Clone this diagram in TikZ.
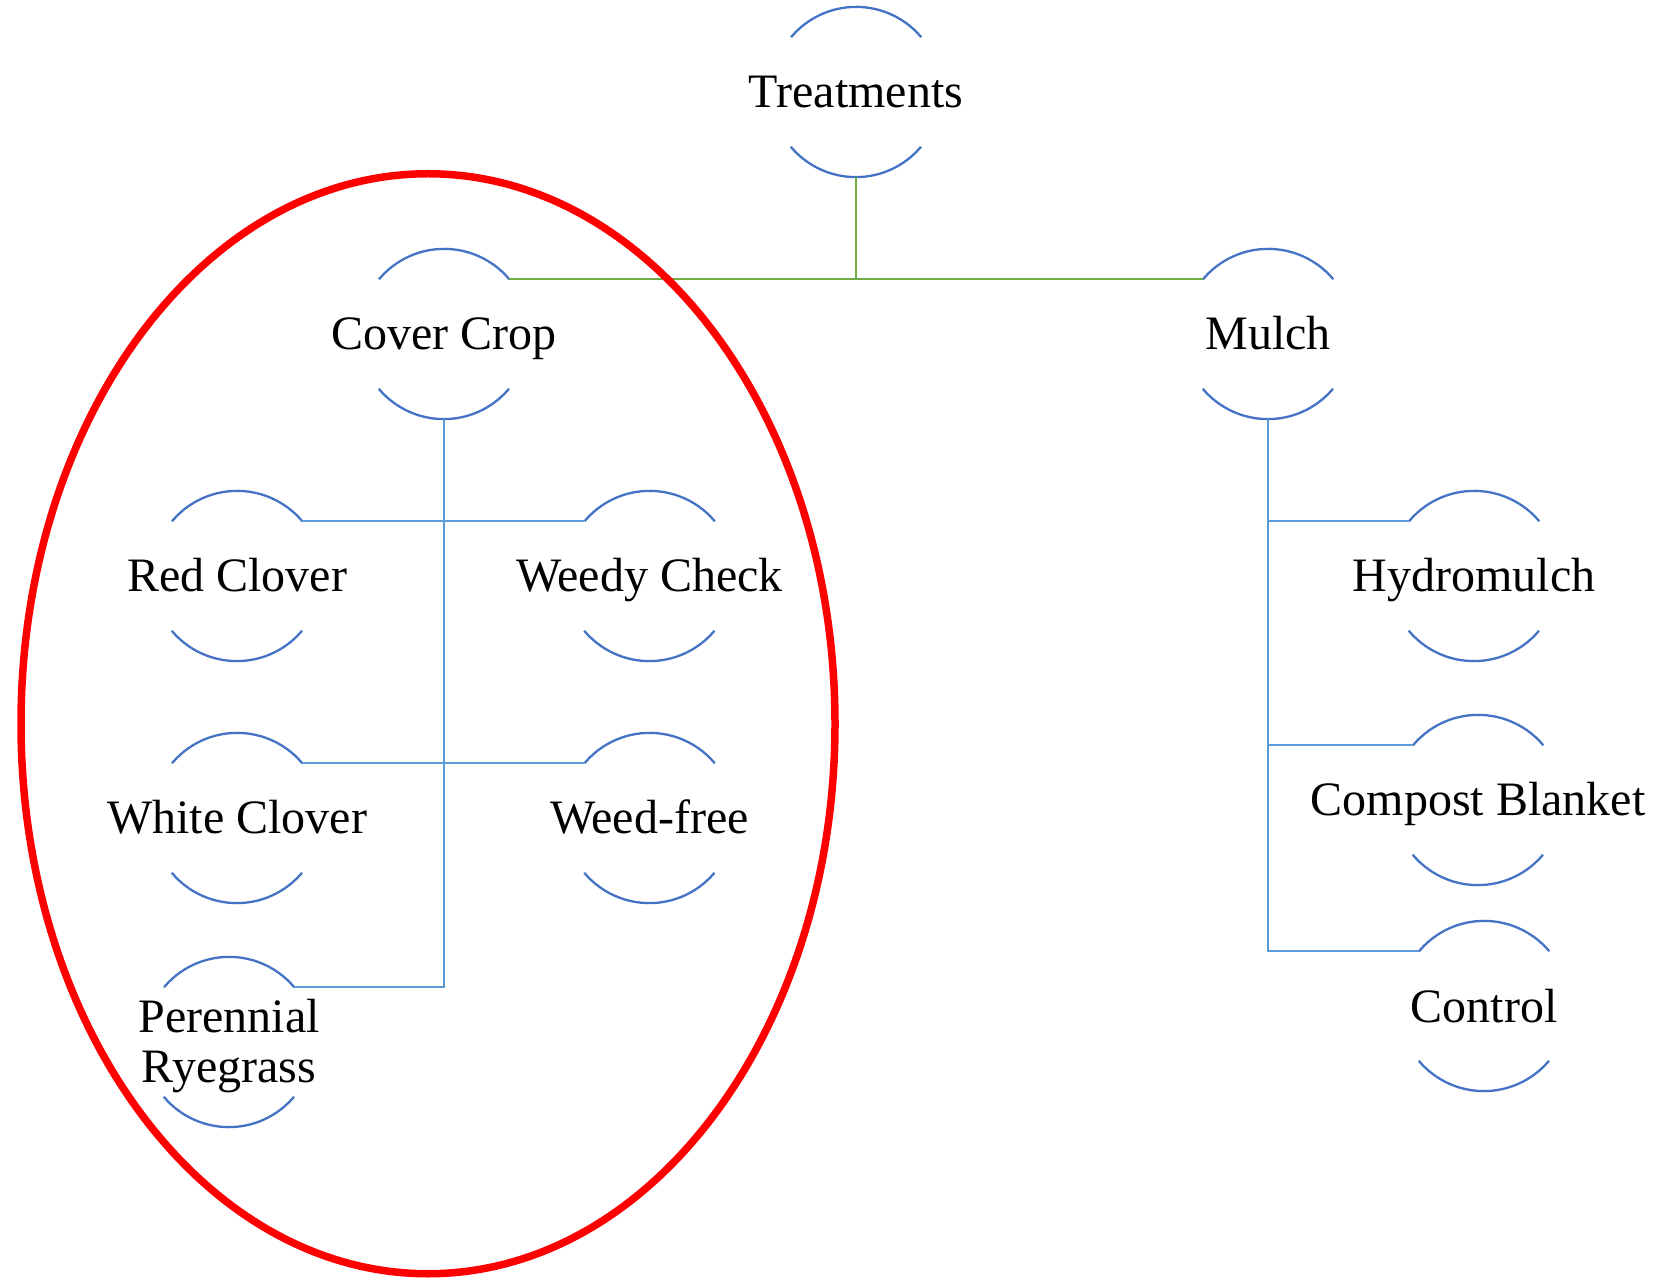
\documentclass[tikz,border=0pt]{standalone}
\usepackage{fontspec}
\setmainfont{Liberation Serif}
\definecolor{arcblue}{HTML}{4472C4}
\definecolor{linkblue}{HTML}{5B9BD5}
\definecolor{linkgreen}{HTML}{70AD47}
\tikzset{
  hnode/.style={circle, minimum size=170pt, inner sep=0pt, draw=none},
  txt/.style={font=\fontsize{48}{50}\selectfont, inner sep=0pt, anchor=base},
  arcline/.style={draw=arcblue, line width=2.3pt},
  glink/.style={draw=linkgreen, line width=2.4pt},
  blink/.style={draw=linkblue, line width=2.4pt},
}
\newcommand{\arcsof}[1]{%
  \draw[arcline] (#1.40) arc[start angle=40, end angle=140, radius=85pt];
  \draw[arcline] (#1.220) arc[start angle=220, end angle=320, radius=85pt];
}
\begin{document}
\begin{tikzpicture}[x=1pt, y=1pt]
\useasboundingbox (0,0) rectangle (1675,1278);
% circles
\node[hnode] (t)   at (856,1186) {};
\node[hnode] (cc)  at (444,944) {};
\node[hnode] (m)   at (1268,944) {};
\node[hnode] (rc)  at (237,702) {};
\node[hnode] (wc)  at (649.5,702) {};
\node[hnode] (whc) at (237,460) {};
\node[hnode] (wf)  at (649.5,460) {};
\node[hnode] (pr)  at (229,236) {};
\node[hnode] (h)   at (1474,702) {};
\node[hnode] (cb)  at (1478,478) {};
\node[hnode] (ctl) at (1484,272) {};
\foreach \n in {t,cc,m,rc,wc,whc,wf,pr,h,cb,ctl}{\arcsof{\n}}
% texts
\node[txt] (tt)   at ([yshift=-16pt]t.center) {Treatments};
\node[txt] (cct)  at ([yshift=-16pt]cc.center) {Cover Crop};
\node[txt] (mt)   at ([yshift=-16pt]m.center) {Mulch};
\node[txt] (rct)  at ([yshift=-16pt]rc.center) {Red Clover};
\node[txt] (wct)  at ([yshift=-16pt]wc.center) {Weedy Check};
\node[txt] (whct) at ([yshift=-16pt]whc.center) {White Clover};
\node[txt] (wft)  at ([yshift=-16pt]wf.center) {Weed-free};
\node[txt, anchor=center, align=center] (prt) at ([yshift=-4pt]pr.center) {Perennial\\Ryegrass};
\node[txt] (ht)   at ([yshift=-16pt]h.center) {Hydromulch};
\node[txt] (cbt)  at ([yshift=-16pt]cb.center) {Compost Blanket};
\node[txt] (ctlt) at ([yshift=-16pt]ctl.center) {Control};
% connectors
\draw[glink] (t.south) -- (t.south |- cc.40);
\draw[glink] (cc.40) -- (m.140);
\draw[blink] (cc.south) -- (cc.south |- pr.40) -- (pr.40);
\draw[blink] (rc.40) -- (wc.140);
\draw[blink] (whc.40) -- (wf.140);
\draw[blink] (m.south) -- (m.south |- ctl.140) -- (ctl.140);
\draw[blink] (m.south |- h.140) -- (h.140);
\draw[blink] (m.south |- cb.140) -- (cb.140);
% highlight
\draw[red, line width=7.5pt] (428,554.25) ellipse [x radius=407, y radius=550];
\end{tikzpicture}
\end{document}
